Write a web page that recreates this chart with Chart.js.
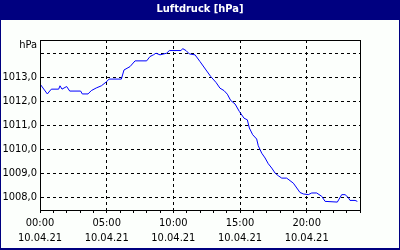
<!DOCTYPE html>
<html>
<head>
<meta charset="utf-8">
<style>
  html, body { margin: 0; padding: 0; background: #fff; }
  canvas { display: block; }
</style>
<script src="https://cdn.jsdelivr.net/npm/chart.js@4/dist/chart.umd.min.js"></script>
</head>
<body>
<canvas id="chart" width="400" height="250"></canvas>
<script>
// hours since 10.04.21 00:00
const hours = [
  0.05, 0.55, 0.85, 1.4, 1.5, 1.65, 2.0, 2.23, 3.05, 3.17, 3.6, 3.85, 4.22, 4.6, 4.97,
  5.18, 6.1, 6.3, 6.75, 7.13, 8.0, 8.25, 8.5, 8.7, 9.0, 9.5, 9.7, 10.58, 10.7, 10.95,
  11.2, 11.63, 12.0, 12.45, 12.8, 13.2, 13.5, 13.8, 14.05, 14.3, 14.63, 14.95, 15.3,
  15.55, 15.7, 15.95, 16.25, 16.37, 16.63, 16.88, 17.12, 17.38, 17.63, 17.87, 18.13,
  18.5, 19.0, 19.5, 19.75, 20.12, 20.38, 20.75, 21.13, 21.38, 22.3, 22.63, 22.88,
  23.12, 23.25, 23.63, 23.8,
];
const pressure = [
  1012.68, 1012.30, 1012.50, 1012.50, 1012.64, 1012.50, 1012.61, 1012.42, 1012.42,
  1012.30, 1012.30, 1012.44, 1012.55, 1012.64, 1012.80,
  1012.92, 1012.92, 1013.30, 1013.44, 1013.68, 1013.68, 1013.86, 1013.93, 1014.00,
  1013.93, 1014.00, 1014.11, 1014.11, 1014.19, 1014.11,
  1013.97, 1013.93, 1013.65, 1013.30, 1013.03, 1012.78, 1012.54, 1012.44, 1012.29,
  1012.03, 1011.88, 1011.57, 1011.29,
  1011.22, 1010.88, 1010.60, 1010.42, 1010.14, 1009.83, 1009.63, 1009.39, 1009.21,
  1009.00, 1008.89, 1008.79,
  1008.79, 1008.58, 1008.19, 1008.13, 1008.10, 1008.17, 1008.17, 1008.03, 1007.82,
  1007.79, 1008.10, 1008.10,
  1007.98, 1007.86, 1007.86, 1007.82,
];
const yTicks = [1008, 1009, 1010, 1011, 1012, 1013, 1014];
const dateLabel = '10.04.21';
const titleText = 'Luftdruck [hPa]';
const unitText = 'hPa';

const NAVY = '#000080';
const FONT = 'Tahoma, "DejaVu Sans Condensed", "Liberation Sans", sans-serif';

const frame = {
  id: 'frame',
  beforeDraw(chart) {
    const { ctx, width, height } = chart;
    ctx.save();
    ctx.fillStyle = NAVY;
    ctx.fillRect(0, 0, width, height);
    ctx.fillStyle = '#fcfffc';
    ctx.fillRect(1, 20, width - 2, height - 22);
    ctx.fillStyle = '#fff';
    ctx.font = 'bold 11px ' + FONT;
    ctx.textAlign = 'center';
    ctx.textBaseline = 'middle';
    ctx.fillText(titleText, width / 2, 9);
    ctx.restore();
  },
  afterDraw(chart) {
    const { ctx, chartArea: a } = chart;
    ctx.save();
    ctx.strokeStyle = '#000';
    ctx.lineWidth = 1;
    ctx.strokeRect(a.left + 0.5, a.top + 0.5, a.right - a.left, a.bottom - a.top);
    ctx.fillStyle = '#000';
    ctx.font = '11px ' + FONT;
    ctx.textAlign = 'right';
    ctx.textBaseline = 'middle';
    ctx.fillText(unitText, a.left - 3, a.top + 5);
    ctx.restore();
  },
};

new Chart(document.getElementById('chart'), {
  type: 'line',
  data: {
    datasets: [
      {
        data: hours.map((h, i) => ({ x: h, y: pressure[i] })),
        borderColor: '#0000ff',
        borderWidth: 1,
        pointRadius: 0,
        tension: 0,
        fill: false,
      },
    ],
  },
  options: {
    responsive: false,
    animation: false,
    layout: { padding: { left: 0, top: 40, right: 40, bottom: 0 } },
    plugins: {
      legend: { display: false },
      tooltip: { enabled: false },
      title: { display: false },
    },
    scales: {
      x: {
        type: 'linear',
        min: 0,
        max: 24,
        afterFit(scale) { scale.height = 40; },
        afterBuildTicks(scale) {
          scale.ticks = [];
          for (let h = 0; h <= 24; h += 1) scale.ticks.push({ value: h });
        },
        grid: {
          color: (c) => (c.tick && c.tick.value % 5 === 0 ? '#000' : 'rgba(0,0,0,0)'),
          tickColor: '#000',
          tickLength: 3,
          lineWidth: 1,
        },
        border: { color: '#000', width: 1, dash: [3, 3] },
        ticks: {
          autoSkip: false,
          maxRotation: 0,
          padding: 3,
          color: '#000',
          font: { family: FONT, size: 11, lineHeight: 1.35 },
          callback(v) {
            if (v % 5 !== 0) return '';
            return [String(v).padStart(2, '0') + ':00', dateLabel];
          },
        },
      },
      y: {
        min: 1007.46,
        max: 1014.55,
        afterFit(scale) { scale.width = 40; },
        afterBuildTicks(scale) {
          scale.ticks = yTicks.map((v) => ({ value: v }));
        },
        grid: { color: '#000', drawTicks: false, lineWidth: 1 },
        border: { color: '#000', width: 1, dash: [3, 3] },
        ticks: {
          padding: 3,
          color: '#000',
          font: { family: FONT, size: 11 },
          callback: (v) => (v === 1014 ? '' : v.toFixed(1).replace('.', ',')),
        },
      },
    },
  },
  plugins: [frame],
});
</script>
</body>
</html>
